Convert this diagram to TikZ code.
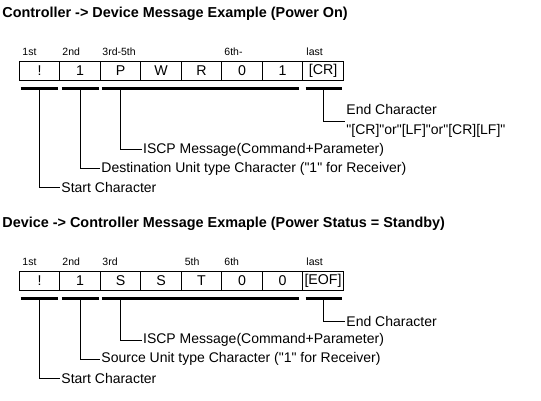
\documentclass[tikz,border=0pt]{standalone}
\usepackage{fontspec}
\setmainfont{Liberation Sans}[Ligatures=TeXOff]
\usetikzlibrary{calc}

\begin{document}
\begin{tikzpicture}[x=1pt, y=-1pt, line width=0.9pt,
    cell/.style={draw, minimum width=40.5pt, minimum height=18.6pt, inner sep=0pt, font=\fontsize{14.2}{16}\selectfont},
    poslabel/.style={anchor=west, inner sep=0pt, font=\fontsize{10.5}{12}\selectfont},
    bar/.style={line width=2.6pt},
    note/.style={anchor=west, inner sep=1pt, align=left, font=\fontsize{14}{19.5}\selectfont},
    heading/.style={anchor=west, inner sep=0pt, font=\bfseries\fontsize{14.4}{16}\selectfont}]

  \useasboundingbox (0,0) rectangle (541,400);

  % Controller -> Device
  \node[heading] (titleA) at (2,14) {Controller -> Device Message Example (Power On)};

  % Byte positions
  \node[poslabel] (pa1) at (22,52) {1st};
  \node[poslabel] (pa2) at (62,52) {2nd};
  \node[poslabel] (pa3) at (102,52) {3rd-5th};
  \node[poslabel] (pa6) at (224,52) {6th-};
  \node[poslabel] (pa8) at (306,52) {last};

  % Message cells
  \foreach \ch [count=\i] in {!,1,P,W,R,0,1,{[CR]}}
    \node[cell] (a\i) at ({19.3+40.5*(\i-0.5)},71) {\ch};

  % Field bars
  \draw[bar] (20.7,88.7) -- (58.3,88.7);
  \draw[bar] (61.7,88.7) -- (99,88.7);
  \draw[bar] (101.7,88.7) -- (299,88.7);
  \draw[bar] (305.7,88.7) -- (342.3,88.7);
  \foreach \i in {1,2,3,8}
    \coordinate (ja\i) at ($(a\i.south)+(0,8.4)$);

  % Field notes
  \node[note] (endA) at (345,121) {End Character\\"[CR]"or"[LF]"or"[CR][LF]"};
  \node[note] (iscpA) at (141.7,149.5) {ISCP Message(Command+Parameter)};
  \node[note] (destA) at (100,168.5) {Destination Unit type Character ("1" for Receiver)};
  \node[note] (startA) at (60,187.5) {Start Character};

  \draw (ja8) |- (endA.west);
  \draw (ja3) |- (iscpA.west);
  \draw (ja2) |- (destA.west);
  \draw (ja1) |- (startA.west);

  % Device -> Controller
  \node[heading] (titleB) at (2,224) {Device -> Controller Message Exmaple (Power Status = Standby)};

  % Byte positions
  \node[poslabel] (pb1) at (22,262) {1st};
  \node[poslabel] (pb2) at (62,262) {2nd};
  \node[poslabel] (pb3) at (102,262) {3rd};
  \node[poslabel] (pb5) at (184.3,262) {5th};
  \node[poslabel] (pb6) at (224,262) {6th};
  \node[poslabel] (pb8) at (306,262) {last};

  % Message cells
  \foreach \ch [count=\i] in {!,1,S,S,T,0,0,{[EOF]}}
    \node[cell] (b\i) at ({19.3+40.5*(\i-0.5)},281) {\ch};

  % Field bars
  \draw[bar] (20.7,298.7) -- (58.3,298.7);
  \draw[bar] (61.7,298.7) -- (99,298.7);
  \draw[bar] (101.7,298.7) -- (299,298.7);
  \draw[bar] (305.7,298.7) -- (342.3,298.7);
  \foreach \i in {1,2,3,8}
    \coordinate (jb\i) at ($(b\i.south)+(0,8.4)$);

  % Field notes
  \node[note] (endB) at (345,321) {End Character};
  \node[note] (iscpB) at (141.7,340) {ISCP Message(Command+Parameter)};
  \node[note] (srcB) at (100,359) {Source Unit type Character ("1" for Receiver)};
  \node[note] (startB) at (60,378) {Start Character};

  \draw (jb8) |- (endB.west);
  \draw (jb3) |- (iscpB.west);
  \draw (jb2) |- (srcB.west);
  \draw (jb1) |- (startB.west);
\end{tikzpicture}
\end{document}
